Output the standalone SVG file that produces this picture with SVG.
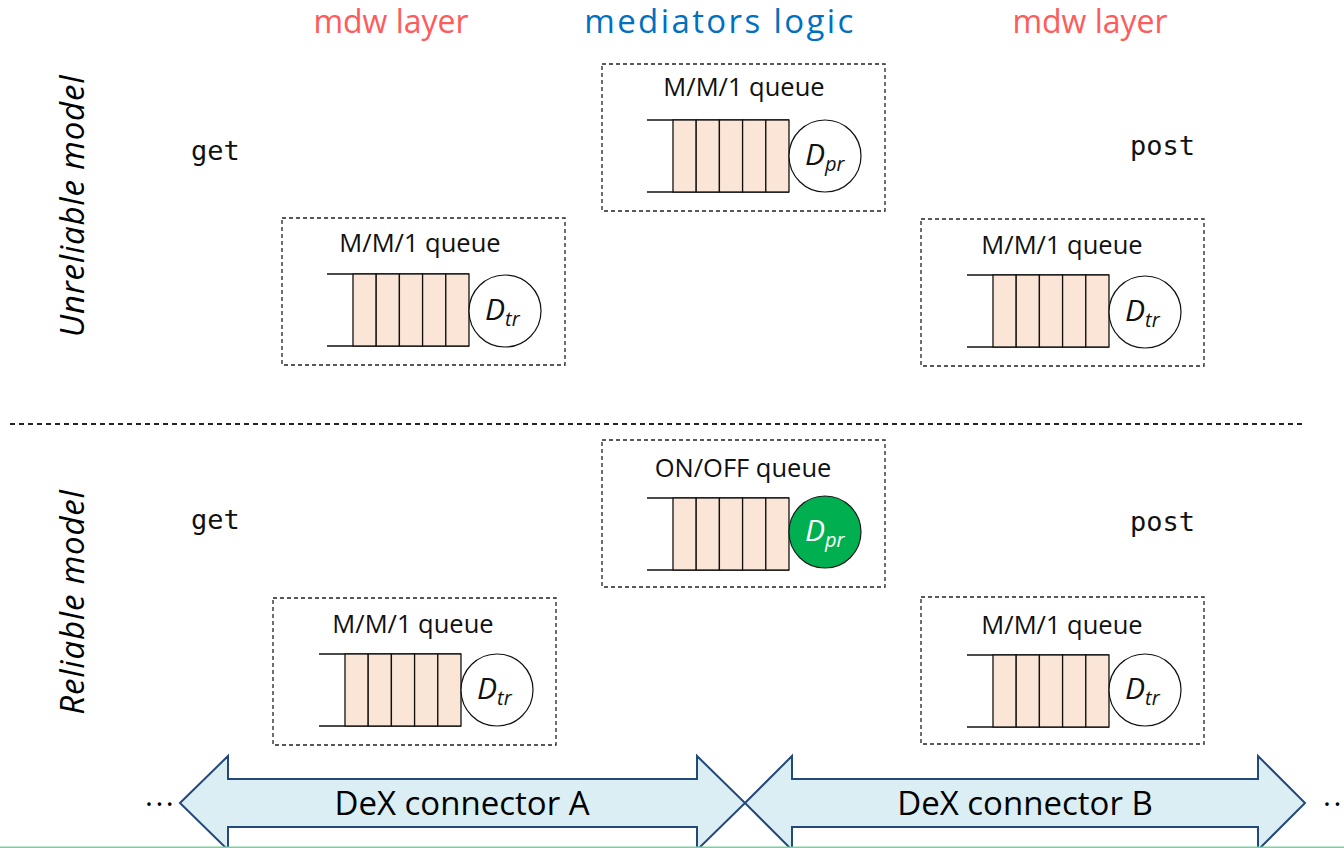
<svg xmlns="http://www.w3.org/2000/svg" xmlns:xlink="http://www.w3.org/1999/xlink" width="1344" height="848" viewBox="0 0 1344 848">
  <style>
    .hdr { font-family: "Open Sans", "Liberation Sans", sans-serif; font-size: 32px; text-anchor: middle; }
    .red { fill: #FF5B5B; }
    .blue { fill: #0070C0; font-size: 33px; letter-spacing: 2.4px; }
    .side { font-family: "Open Sans", "Liberation Sans", sans-serif; font-size: 33px; font-style: italic; text-anchor: middle; fill: #000; letter-spacing: 0.8px; }
    .code { font-family: "DejaVu Sans Mono", "Liberation Mono", monospace; font-size: 27px; fill: #111; }
    .frame { fill: none; stroke: #222; stroke-width: 1.3; stroke-dasharray: 4 3; }
    .title { font-family: "Open Sans", "Liberation Sans", sans-serif; font-size: 25.5px; text-anchor: middle; fill: #111; }
    .rail { stroke: #111; stroke-width: 1.3; }
    .cell { fill: #FBE5D6; stroke: #111; stroke-width: 1.3; }
    .server { fill: #fff; stroke: #111; stroke-width: 1.2; }
    .server.on { fill: #00B050; stroke: #1b1b1b; }
    .dlabel { font-family: "Open Sans", "Liberation Sans", sans-serif; font-size: 30px; font-style: italic; fill: #111; }
    .dlabel.on { fill: #fff; }
    .sub { font-size: 20px; }
    .arrow { fill: #DAEEF3; stroke: #22497A; stroke-width: 2; stroke-linejoin: miter; }
    .alabel { font-family: "Open Sans", "Liberation Sans", sans-serif; font-size: 33px; text-anchor: middle; fill: #000; }
    .dots { font-family: "Open Sans", "Liberation Sans", sans-serif; font-size: 30px; fill: #000; letter-spacing: 2.5px; }
  </style>
  <defs>
    <!-- queue buffer: two rails with five cells, local coords of the frame -->
    <g id="qbody">
      <line class="rail" x1="45" y1="56" x2="187" y2="56"/>
      <line class="rail" x1="45" y1="128" x2="187" y2="128"/>
      <rect class="cell" x="71" y="56" width="23.2" height="72"/>
      <rect class="cell" x="94.2" y="56" width="23.2" height="72"/>
      <rect class="cell" x="117.4" y="56" width="23.2" height="72"/>
      <rect class="cell" x="140.6" y="56" width="23.2" height="72"/>
      <rect class="cell" x="163.8" y="56" width="23.2" height="72"/>
    </g>
    <rect id="qframe" class="frame" x="0" y="0" width="283" height="147"/>
  </defs>

  <!-- column headers -->
  <text class="hdr red" x="391" y="33">mdw layer</text>
  <text class="hdr blue" x="720" y="33">mediators logic</text>
  <text class="hdr red" x="1090" y="33">mdw layer</text>

  <!-- row labels -->
  <text class="side" transform="translate(84,206) rotate(-90)">Unreliable model</text>
  <text class="side" transform="translate(84,602) rotate(-90)">Reliable model</text>

  <!-- operation names -->
  <text class="code" x="191" y="160">get</text>
  <text class="code" x="1130" y="155">post</text>
  <text class="code" x="191" y="529">get</text>
  <text class="code" x="1130" y="531">post</text>

  <!-- separator between the two models -->
  <line x1="10" y1="424" x2="1303" y2="424" stroke="#222" stroke-width="2" stroke-dasharray="5 4"/>

  <!-- unreliable model -->
  <g id="get-queue-unreliable" transform="translate(282,218)">
    <use xlink:href="#qframe"/>
    <text class="title" x="138" y="34">M/M/1 queue</text>
    <use xlink:href="#qbody"/>
    <circle class="server" cx="223" cy="93" r="36"/>
    <text class="dlabel" x="203" y="102">D<tspan class="sub" dy="6">tr</tspan></text>
  </g>

  <g id="mediator-queue-unreliable" transform="translate(602,64)">
    <use xlink:href="#qframe"/>
    <text class="title" x="142" y="32">M/M/1 queue</text>
    <use xlink:href="#qbody"/>
    <circle class="server" cx="223" cy="92" r="36"/>
    <text class="dlabel" x="203" y="101">D<tspan class="sub" dy="6">pr</tspan></text>
  </g>

  <g id="post-queue-unreliable" transform="translate(921,219)">
    <use xlink:href="#qframe"/>
    <text class="title" x="141" y="35">M/M/1 queue</text>
    <use xlink:href="#qbody" x="1"/>
    <circle class="server" cx="224" cy="93" r="36"/>
    <text class="dlabel" x="204" y="102">D<tspan class="sub" dy="6">tr</tspan></text>
  </g>

  <!-- reliable model -->
  <g id="get-queue-reliable" transform="translate(273,598)">
    <use xlink:href="#qframe"/>
    <text class="title" x="140" y="35">M/M/1 queue</text>
    <use xlink:href="#qbody" x="1"/>
    <circle class="server" cx="224" cy="92" r="36"/>
    <text class="dlabel" x="204" y="101">D<tspan class="sub" dy="6">tr</tspan></text>
  </g>

  <g id="mediator-queue-reliable" transform="translate(602,440)">
    <use xlink:href="#qframe"/>
    <text class="title" x="141" y="37">ON/OFF queue</text>
    <use xlink:href="#qbody" y="2"/>
    <circle class="server on" cx="223" cy="92" r="36"/>
    <text class="dlabel on" x="203" y="101">D<tspan class="sub" dy="6">pr</tspan></text>
  </g>

  <g id="post-queue-reliable" transform="translate(921,597)">
    <use xlink:href="#qframe"/>
    <text class="title" x="141" y="37">M/M/1 queue</text>
    <use xlink:href="#qbody" x="1" y="2"/>
    <circle class="server" cx="224" cy="93" r="36"/>
    <text class="dlabel" x="204" y="102">D<tspan class="sub" dy="6">tr</tspan></text>
  </g>

  <!-- connectors spanning the layers -->
  <g id="connectors">
    <g id="dex-connector-a">
      <polygon class="arrow" points="180,803 228,756 228,779 697,779 697,756 745,803 697,850 697,827 228,827 228,850"/>
      <text class="alabel" x="462" y="815">DeX connector A</text>
    </g>
    <g id="dex-connector-b">
      <polygon class="arrow" points="745,803 792,756 792,779 1258,779 1258,756 1305,803 1258,850 1258,827 792,827 792,850"/>
      <text class="alabel" x="1025" y="815">DeX connector B</text>
    </g>
    <text class="dots" x="145" y="806">...</text>
    <text class="dots" x="1323" y="806">...</text>
  </g>

  <!-- bottom rule -->
  <line x1="0" y1="847.3" x2="1344" y2="847.3" stroke="#7CCFA0" stroke-width="1.5"/>
</svg>
